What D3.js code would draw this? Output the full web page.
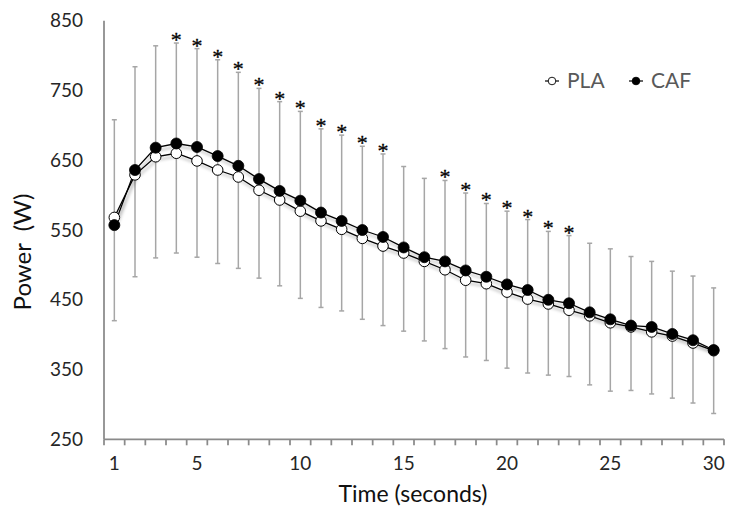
<!DOCTYPE html>
<html>
<head>
<meta charset="utf-8">
<script src="https://cdn.jsdelivr.net/npm/d3@7"></script>
<style>
  html, body { margin: 0; padding: 0; background: #fff; }
  svg { display: block; }
</style>
</head>
<body>
<svg id="chart" width="735" height="515"></svg>
<script>
// ---- data ----
const times = d3.range(1, 31);
const xLabelTimes = [1, 5, 10, 15, 20, 25, 30];
const yTicks = [250, 350, 450, 550, 650, 750, 850];
const pla = [568, 629, 655, 660, 649, 636, 626, 607, 593, 577, 563, 551, 538, 527, 517,
             505, 493, 478, 473, 461, 451, 444, 435, 427, 417, 411, 404, 398, 388, 377];
const caf = [557, 636, 668, 674, 669, 656, 642, 623, 606, 592, 575, 563, 550, 540, 525,
             511, 505, 492, 483, 472, 464, 450, 445, 432, 422, 413, 411, 401, 392, 378];
const errHigh = [708, 784, 814, 818, 810, 794, 776, 753, 734, 720, 695, 686, 670, 659, 641,
                 624, 621, 603, 588, 577, 565, 548, 542, 531, 523, 512, 505, 491, 484, 467];
const errLow = [420, 483, 510, 517, 511, 502, 495, 481, 470, 452, 439, 434, 422, 413, 405,
                391, 380, 368, 363, 352, 345, 342, 340, 328, 319, 320, 315, 309, 302, 287];
const sigTimes = [4, 5, 6, 7, 8, 9, 10, 11, 12, 13, 14, 17, 18, 19, 20, 21, 22, 23];

// ---- layout ----
const svg = d3.select("#chart");
const plotLeft = 104, plotRight = 724, plotTop = 20.7, plotBottom = 439.3;
const FONT = "Lato, 'Open Sans', sans-serif";

const x = d3.scaleBand().domain(times).range([plotLeft, plotRight]);
const cx = t => x(t) + x.bandwidth() / 2;
const y = d3.scaleLinear().domain([250, 850]).range([plotBottom, plotTop]);

// shadow filter
const defs = svg.append("defs");
const f = defs.append("filter").attr("id", "shadow")
  .attr("x", "-10%").attr("y", "-10%").attr("width", "120%").attr("height", "130%");
f.append("feDropShadow").attr("dx", 1.5).attr("dy", 3).attr("stdDeviation", 1.6)
  .attr("flood-color", "#000").attr("flood-opacity", 0.35);

// error bars
const eg = svg.append("g").attr("stroke", "#a6a6a6").attr("stroke-width", 1.5);
times.forEach((t, i) => {
  const xx = cx(t);
  eg.append("line").attr("x1", xx).attr("x2", xx).attr("y1", y(errLow[i])).attr("y2", y(errHigh[i]));
  eg.append("line").attr("x1", xx - 2.5).attr("x2", xx + 2.5).attr("y1", y(errHigh[i])).attr("y2", y(errHigh[i]));
  eg.append("line").attr("x1", xx - 2.5).attr("x2", xx + 2.5).attr("y1", y(errLow[i])).attr("y2", y(errLow[i]));
});

// asterisks
svg.append("g").selectAll("text").data(sigTimes).join("text")
  .attr("x", t => cx(t)).attr("y", t => y(errHigh[t - 1]) + 4)
  .attr("text-anchor", "middle")
  .attr("font-family", "'Liberation Serif', 'DejaVu Serif', serif")
  .attr("font-size", 22).attr("fill", "#000").attr("stroke", "#000").attr("stroke-width", 0.3)
  .text("*");

// axes
const ax = svg.append("g").attr("stroke", "#8a8a8a").attr("stroke-width", 1.75).attr("fill", "none");
ax.append("line").attr("x1", plotLeft).attr("x2", plotLeft).attr("y1", plotTop).attr("y2", plotBottom);
ax.append("line").attr("x1", plotLeft).attr("x2", plotRight).attr("y1", plotBottom).attr("y2", plotBottom);
const tickEdges = times.map(t => x(t)).concat([x(times[times.length - 1]) + x.bandwidth()]);
tickEdges.forEach(e => {
  ax.append("line").attr("x1", e).attr("x2", e).attr("y1", plotBottom).attr("y2", plotBottom + 6);
});

// y tick labels
svg.append("g").selectAll("text").data(yTicks).join("text")
  .attr("x", 83).attr("y", d => y(d)).attr("dy", "0.35em")
  .attr("text-anchor", "end").attr("font-family", FONT).attr("font-size", 19).attr("fill", "#262626")
  .text(d => d);

// x tick labels
svg.append("g").selectAll("text").data(xLabelTimes).join("text")
  .attr("x", t => cx(t)).attr("y", 463).attr("dy", "0.35em")
  .attr("text-anchor", "middle").attr("font-family", FONT).attr("font-size", 19).attr("fill", "#262626")
  .text(t => t);

// axis titles
svg.append("text").attr("x", 413).attr("y", 494).attr("dy", "0.35em")
  .attr("text-anchor", "middle").attr("font-family", FONT).attr("font-size", 23).attr("fill", "#111")
  .text("Time (seconds)");
svg.append("text").attr("transform", "translate(23,252) rotate(-90)").attr("dy", "0.35em")
  .attr("text-anchor", "middle").attr("font-family", FONT).attr("font-size", 24).attr("fill", "#111")
  .attr("xml:space", "preserve").style("white-space", "pre")
  .text("Power  (W)");

// lines
const line = arr => d3.line().x((d, i) => cx(times[i])).y(d => y(d))(arr);
const lg = svg.append("g").attr("filter", "url(#shadow)");
lg.append("path").attr("d", line(pla)).attr("fill", "none").attr("stroke", "#000").attr("stroke-width", 1.3);
lg.append("path").attr("d", line(caf)).attr("fill", "none").attr("stroke", "#000").attr("stroke-width", 1.3);

// markers
svg.append("g").selectAll("circle").data(pla).join("circle")
  .attr("cx", (d, i) => cx(times[i])).attr("cy", d => y(d)).attr("r", 5.3)
  .attr("fill", "#fff").attr("stroke", "#000").attr("stroke-width", 1);
svg.append("g").selectAll("circle").data(caf).join("circle")
  .attr("cx", (d, i) => cx(times[i])).attr("cy", d => y(d)).attr("r", 5.5)
  .attr("fill", "#000").attr("stroke", "#000").attr("stroke-width", 0.8);

// legend
const legend = [{name: "PLA", fill: "#fff", x: 545}, {name: "CAF", fill: "#000", x: 629}];
const lgG = svg.append("g");
legend.forEach(l => {
  lgG.append("line").attr("x1", l.x).attr("x2", l.x + 14).attr("y1", 81).attr("y2", 81)
    .attr("stroke", "#000").attr("stroke-width", 1.2);
  lgG.append("circle").attr("cx", l.x + 7).attr("cy", 81).attr("r", 3.8)
    .attr("fill", l.fill).attr("stroke", "#000").attr("stroke-width", 0.9);
  lgG.append("text").attr("x", l.x + 22).attr("y", 81).attr("dy", "0.35em")
    .attr("font-family", FONT).attr("font-size", 21).attr("fill", "#595959")
    .text(l.name);
});
</script>
</body>
</html>
